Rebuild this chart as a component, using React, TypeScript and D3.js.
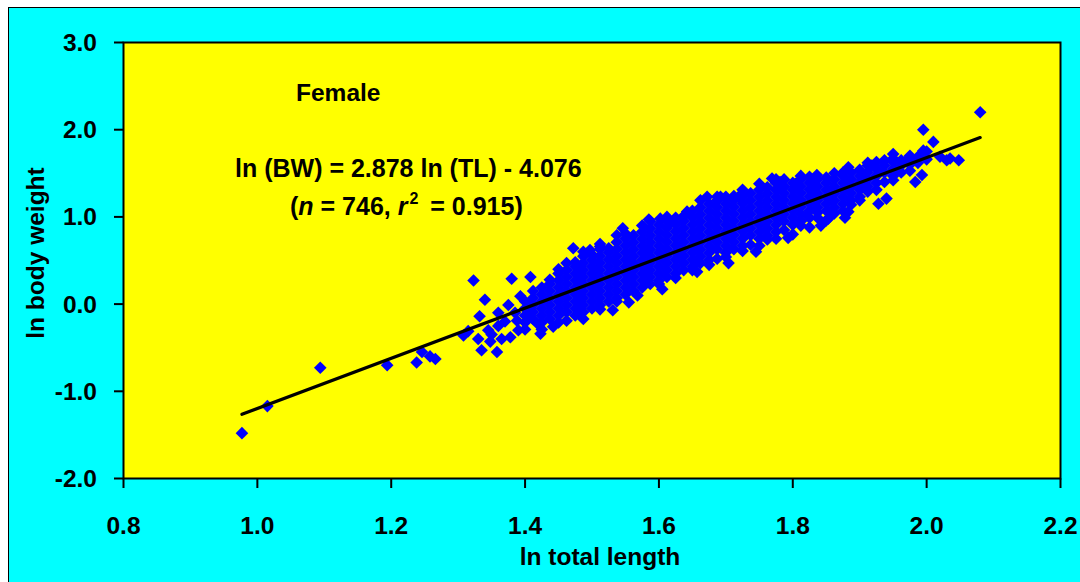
import React from "react";
import * as d3 from "d3";

// ---- data (ln total length, ln body weight) ----
const lnTL_outliers: number[] = [0.977, 1.015, 1.094, 1.194, 1.238, 1.246, 1.258, 1.266, 1.308, 1.315, 1.323, 1.332, 1.335, 1.34, 1.348, 1.358, 1.345, 1.36, 1.375, 1.378, 1.38, 1.388, 1.393, 1.408, 1.418, 1.423, 1.442, 1.462, 1.472, 1.497, 1.512, 1.35, 1.365, 1.37, 1.385, 1.36, 1.39, 1.33, 1.602, 1.617, 1.642, 1.672, 1.692, 1.719, 1.769, 1.781, 1.804, 1.836, 1.853, 1.883, 1.821, 1.928, 1.94, 1.995, 2.01, 1.995, 2.02, 2.03, 2.048, 2.08, 1.993, 1.918, 1.883, 1.983, 1.95, 1.975, 2.035, 1.97, 2.0, 1.531, 1.568, 1.605, 1.657, 1.704, 1.745, 1.793, 1.842, 1.878, 1.555, 1.546, 1.585];
const lnBW_outliers: number[] = [-1.48, -1.17, -0.73, -0.70, -0.67, -0.55, -0.60, -0.63, -0.36, -0.31, 0.27, -0.14, -0.53, 0.05, -0.43, -0.55, -0.30, -0.25, -0.01, -0.38, 0.29, -0.19, 0.09, 0.31, -0.22, -0.34, -0.26, -0.19, 0.64, 0.62, 0.69, -0.35, -0.40, -0.20, -0.10, -0.10, -0.30, -0.40, 0.98, 0.94, 1.06, 1.23, 1.23, 1.23, 1.44, 1.40, 1.38, 1.48, 0.98, 1.06, 1.02, 1.15, 1.21, 2.00, 1.86, 1.76, 1.69, 1.65, 1.65, 2.20, 1.48, 1.59, 1.57, 1.40, 1.72, 1.70, 1.67, 1.65, 1.75, -0.07, 0.10, 0.17, 0.37, 0.47, 0.60, 0.76, 0.90, 0.99, 0.02, 0.87, 0.97];

// dense band, column by column: x value and the y values seen in that column
const bandTL: number[] = [1.400, 1.412, 1.425, 1.437, 1.450, 1.462, 1.475, 1.487, 1.500, 1.512, 1.525, 1.537, 1.550, 1.562, 1.575, 1.587, 1.600, 1.612, 1.625, 1.637, 1.650, 1.662, 1.675, 1.687, 1.700, 1.712, 1.725, 1.737, 1.750, 1.762, 1.775, 1.787, 1.800, 1.812, 1.825, 1.837, 1.850, 1.862, 1.875, 1.887, 1.900, 1.912, 1.925, 1.937, 1.950, 1.962, 1.975, 1.987, 2.000];
const bandBW: number[][] = [
  [-0.29, -0.21, -0.13, -0.05, 0.03],
  [-0.17, -0.09, -0.01, 0.07, 0.15],
  [-0.29, -0.21, -0.13, -0.05, 0.03, 0.11, 0.19],
  [-0.17, -0.09, -0.01, 0.07, 0.15, 0.23, 0.28],
  [-0.21, -0.13, -0.05, 0.03, 0.11, 0.19, 0.27, 0.35, 0.40],
  [-0.09, -0.01, 0.07, 0.15, 0.23, 0.31, 0.39, 0.47],
  [-0.13, -0.05, 0.03, 0.11, 0.19, 0.27, 0.35, 0.43, 0.48],
  [-0.17, -0.09, -0.01, 0.07, 0.15, 0.23, 0.31, 0.39, 0.47, 0.55, 0.60],
  [-0.05, 0.03, 0.11, 0.19, 0.27, 0.35, 0.43, 0.51, 0.57],
  [-0.06, -0.01, 0.07, 0.15, 0.23, 0.31, 0.39, 0.47, 0.55, 0.63, 0.66],
  [0.03, 0.11, 0.19, 0.27, 0.35, 0.43, 0.51, 0.59, 0.64],
  [0.03, 0.07, 0.15, 0.23, 0.31, 0.39, 0.47, 0.55, 0.63, 0.71, 0.79],
  [0.11, 0.19, 0.27, 0.35, 0.43, 0.51, 0.59, 0.67, 0.75, 0.81],
  [0.15, 0.23, 0.31, 0.39, 0.47, 0.55, 0.63, 0.71, 0.79],
  [0.19, 0.27, 0.35, 0.43, 0.51, 0.59, 0.67, 0.75, 0.83, 0.90],
  [0.23, 0.31, 0.39, 0.47, 0.55, 0.63, 0.71, 0.79, 0.87, 0.95],
  [0.23, 0.27, 0.35, 0.43, 0.51, 0.59, 0.67, 0.75, 0.83, 0.91],
  [0.31, 0.39, 0.47, 0.55, 0.63, 0.71, 0.79, 0.87, 0.95, 1.00],
  [0.30, 0.35, 0.43, 0.51, 0.59, 0.67, 0.75, 0.83, 0.91, 0.99],
  [0.39, 0.47, 0.55, 0.63, 0.71, 0.79, 0.87, 0.95, 1.01],
  [0.39, 0.43, 0.51, 0.59, 0.67, 0.75, 0.83, 0.91, 0.99, 1.07],
  [0.47, 0.55, 0.63, 0.71, 0.79, 0.87, 0.95, 1.03, 1.11, 1.19],
  [0.45, 0.51, 0.59, 0.67, 0.75, 0.83, 0.91, 0.99, 1.07, 1.15],
  [0.52, 0.63, 0.71, 0.79, 0.87, 0.95, 1.03, 1.11, 1.19, 1.23],
  [0.54, 0.59, 0.67, 0.75, 0.83, 0.91, 0.99, 1.07, 1.15, 1.23],
  [0.63, 0.71, 0.79, 0.87, 0.95, 1.03, 1.11, 1.19, 1.24],
  [0.61, 0.67, 0.75, 0.83, 0.91, 0.99, 1.07, 1.15, 1.23, 1.31],
  [0.68, 0.79, 0.87, 0.95, 1.03, 1.11, 1.19, 1.27],
  [0.67, 0.75, 0.83, 0.91, 0.99, 1.07, 1.15, 1.23, 1.31, 1.38],
  [0.74, 0.79, 0.87, 0.95, 1.03, 1.11, 1.19, 1.27, 1.34],
  [0.75, 0.83, 0.91, 0.99, 1.07, 1.15, 1.23, 1.31, 1.39, 1.43],
  [0.85, 0.95, 1.03, 1.11, 1.19, 1.27, 1.35, 1.43],
  [0.80, 0.91, 0.99, 1.07, 1.15, 1.23, 1.31, 1.39],
  [0.90, 0.95, 1.03, 1.11, 1.19, 1.27, 1.35, 1.43, 1.47],
  [0.88, 0.99, 1.07, 1.15, 1.23, 1.31, 1.39, 1.46],
  [0.99, 1.05, 1.11, 1.19, 1.27, 1.35, 1.43],
  [0.96, 1.07, 1.15, 1.23, 1.31, 1.39, 1.45],
  [1.04, 1.11, 1.19, 1.27, 1.35, 1.43, 1.50],
  [1.07, 1.15, 1.23, 1.31, 1.39, 1.47, 1.51],
  [1.14, 1.19, 1.27, 1.35, 1.43, 1.51],
  [1.19, 1.23, 1.31, 1.39, 1.47, 1.54],
  [1.29, 1.35, 1.43, 1.51, 1.59, 1.62],
  [1.31, 1.39, 1.47, 1.55, 1.63],
  [1.40, 1.51, 1.59, 1.65],
  [1.42, 1.47, 1.55, 1.63, 1.67],
  [1.51, 1.59, 1.65],
  [1.53, 1.60, 1.66],
  [1.62, 1.69],
  [1.66],
];

const slope = 2.878;
const intercept = -4.076;

const xTicks: number[] = [0.8, 1.0, 1.2, 1.4, 1.6, 1.8, 2.0, 2.2];
const yTicks: number[] = [-2.0, -1.0, 0.0, 1.0, 2.0, 3.0];

const FONT = "'Liberation Sans', Arial, sans-serif";

export default function App() {
  const W = 1080, H = 582;
  const left = 123.5, right = 1060.5, top = 42.5, bottom = 478.5;
  const x = d3.scaleLinear().domain([0.8, 2.2]).range([left, right]);
  const y = d3.scaleLinear().domain([-2, 3]).range([bottom, top]);

  const pts: [number, number][] = [];
  bandTL.forEach((tl, i) => bandBW[i].forEach((bw) => pts.push([tl, bw])));
  lnTL_outliers.forEach((tl, i) => pts.push([tl, lnBW_outliers[i]]));

  const xs = pts.map((p) => p[0]);
  const xmin = d3.min(xs) as number, xmax = d3.max(xs) as number;
  const line = d3.line<number>().x((v) => x(v)).y((v) => y(slope * v + intercept));

  const r = 6.3;
  const diamond = `M0,${-r}L${r},0L0,${r}L${-r},0Z`;

  return (
    <svg width={W} height={H} style={{ position: "absolute", left: 0, top: 0, background: "#fff" }}>
      <rect x={8.5} y={7.5} width={1200} height={700} fill="#00FFFF" stroke="#000" strokeWidth={1} />
      <rect x={left} y={top} width={right - left} height={bottom - top} fill="#FFFF00" />
      {pts.map((p, i) => (
        <path key={i} d={diamond} transform={`translate(${x(p[0])},${y(p[1])})`} fill="#0000FF" />
      ))}
      <path d={line([xmin, xmax]) as string} stroke="#000" strokeWidth={3.2} fill="none" strokeLinecap="round" />
      <rect x={left} y={top} width={right - left} height={bottom - top} fill="none" stroke="#000" strokeWidth={2} />
      {yTicks.map((t) => (
        <g key={"y" + t}>
          <line x1={114} x2={left} y1={y(t)} y2={y(t)} stroke="#000" strokeWidth={2} />
          <text x={97} y={y(t) + 8.5} textAnchor="end" fontFamily={FONT} fontWeight="bold" fontSize={24.5} fill="#000">
            {t.toFixed(1)}
          </text>
        </g>
      ))}
      {xTicks.map((t) => (
        <g key={"x" + t}>
          <line x1={x(t)} x2={x(t)} y1={bottom} y2={488} stroke="#000" strokeWidth={2} />
          <text x={x(t)} y={534} textAnchor="middle" fontFamily={FONT} fontWeight="bold" fontSize={24.5} fill="#000">
            {t.toFixed(1)}
          </text>
        </g>
      ))}
      <text x={600} y={565} textAnchor="middle" fontFamily={FONT} fontWeight="bold" fontSize={24.5} fill="#000">ln total length</text>
      <text transform="translate(44,253) rotate(-90)" textAnchor="middle" fontFamily={FONT} fontWeight="bold" fontSize={24.5} fill="#000">ln body weight</text>
      <text x={296} y={101} fontFamily={FONT} fontWeight="bold" fontSize={24.5} fill="#000">Female</text>
      <text x={235} y={177} fontFamily={FONT} fontWeight="bold" fontSize={25} fill="#000">
        ln (BW) = 2.878 ln (TL) - 4.076
      </text>
      <text x={290} y={215} fontFamily={FONT} fontWeight="bold" fontSize={25} fill="#000">
        (<tspan fontStyle="italic">n</tspan> = 746, <tspan fontStyle="italic">r</tspan>
        <tspan dx={2} dy={-11} fontSize={16}>2</tspan>
        <tspan dx={5} dy={11}> = 0.915)</tspan>
      </text>
    </svg>
  );
}
